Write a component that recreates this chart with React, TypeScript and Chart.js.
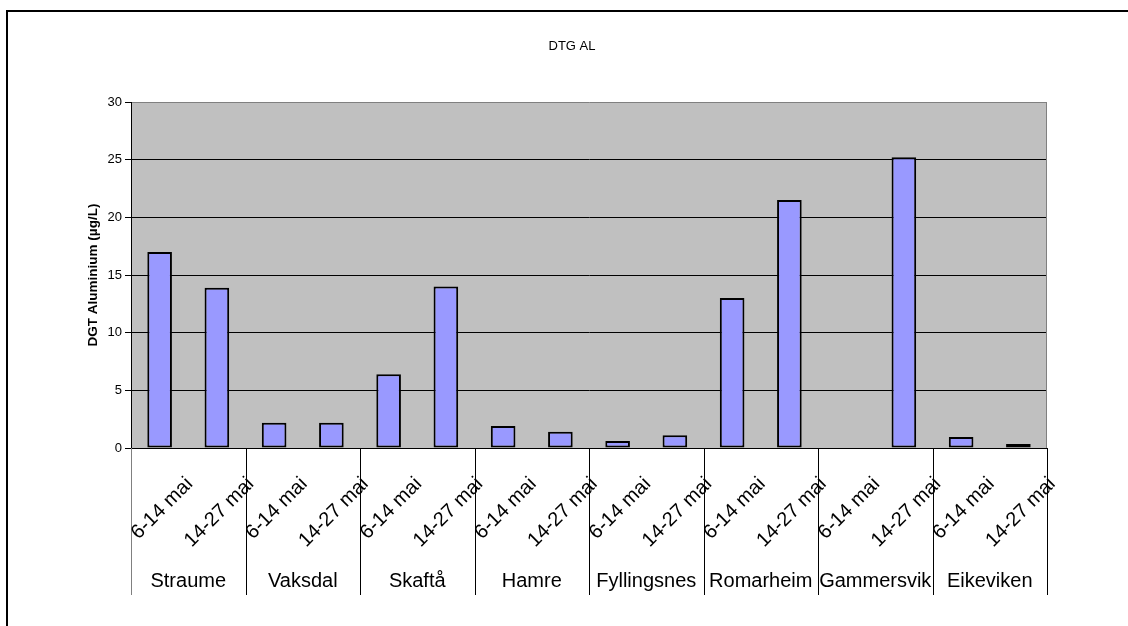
import React, { useEffect, useRef } from "react";
import { Chart, registerables } from "chart.js";
Chart.register(...registerables);

const chartTitle = "DTG AL";
const yTitle = "DGT Aluminium (µg/L)";
const groups = ["Straume", "Vaksdal", "Skaftå", "Hamre", "Fyllingsnes", "Romarheim", "Gammersvik", "Eikeviken"];
const periods = ["6-14 mai", "14-27 mai"];
const values6to14: (number | null)[] = [17.0, 2.2, 6.4, 1.9, 0.6, 13.0, null, 0.95];
const values14to27: (number | null)[] = [13.9, 2.2, 14.0, 1.4, 1.1, 21.5, 25.2, 0.35];
const yMin = 0;
const yMax = 30;
const yStep = 5;

const FONT = "'Liberation Sans', Arial, sans-serif";

const labels: string[] = [];
const data: (number | null)[] = [];
groups.forEach((g, i) => {
  labels.push(g + " " + periods[0]);
  data.push(values6to14[i]);
  labels.push(g + " " + periods[1]);
  data.push(values14to27[i]);
});

const decor = {
  id: "decor",
  beforeDraw(chart: any) {
    const { ctx, chartArea: a, width, height } = chart;
    ctx.save();
    ctx.fillStyle = "#ffffff";
    ctx.fillRect(0, 0, width, height);
    ctx.fillStyle = "#000000";
    ctx.fillRect(6, 10, width - 6, 2);
    ctx.fillRect(6, 10, 2, height - 10);
    ctx.fillStyle = "#C0C0C0";
    ctx.fillRect(a.left, a.top, a.right - a.left, a.bottom - a.top);
    ctx.restore();
  },
  afterDraw(chart: any) {
    const { ctx, chartArea: a } = chart;
    const xs = chart.scales.x;
    ctx.save();
    // right plot border
    ctx.strokeStyle = "#808080";
    ctx.lineWidth = 1;
    ctx.beginPath();
    ctx.moveTo(Math.round(a.right) - 0.5, a.top);
    ctx.lineTo(Math.round(a.right) - 0.5, a.bottom);
    ctx.stroke();
    // group separators
    for (let g = 0; g <= groups.length; g++) {
      const x = Math.round(xs.getPixelForValue(2 * g - 0.5)) + 0.5;
      ctx.strokeStyle = g === 0 ? "#808080" : "#000000";
      ctx.beginPath();
      ctx.moveTo(x, a.bottom);
      ctx.lineTo(x, 595);
      ctx.stroke();
    }
    // rotated period labels
    ctx.fillStyle = "#000000";
    ctx.font = `20px ${FONT}`;
    ctx.textAlign = "center";
    ctx.textBaseline = "middle";
    for (let i = 0; i < labels.length; i++) {
      const txt = periods[i % 2];
      const w = ctx.measureText(txt).width;
      const cx = xs.getPixelForValue(i) + 2.5;
      const cy = 474 + (w + 20) * 0.3535;
      ctx.save();
      ctx.translate(cx, cy);
      ctx.rotate(-Math.PI / 4);
      ctx.fillText(txt, 0, 0);
      ctx.restore();
    }
    // group labels
    for (let g = 0; g < groups.length; g++) {
      const x0 = xs.getPixelForValue(2 * g - 0.5);
      const x1 = xs.getPixelForValue(2 * g + 1.5);
      ctx.fillText(groups[g], (x0 + x1) / 2, 581);
    }
    // title
    ctx.font = `13px ${FONT}`;
    ctx.fillText(chartTitle, 572, 46);
    // y title
    ctx.font = `bold 13.5px ${FONT}`;
    ctx.save();
    ctx.translate(93, (a.top + a.bottom) / 2);
    ctx.rotate(-Math.PI / 2);
    ctx.fillText(yTitle, 0, 0);
    ctx.restore();
    ctx.restore();
  },
};

export default function App() {
  const ref = useRef<HTMLCanvasElement | null>(null);
  useEffect(() => {
    if (!ref.current) return;
    const chart = new Chart(ref.current, {
      type: "bar",
      data: {
        labels,
        datasets: [
          {
            data,
            backgroundColor: "#9999FF",
            borderColor: "#000000",
            borderWidth: 2,
            borderSkipped: false,
            categoryPercentage: 1,
            barPercentage: 0.43,
          },
        ],
      },
      options: {
        responsive: false,
        animation: false,
        devicePixelRatio: 1,
        layout: { padding: { top: 102, left: 0, right: 81, bottom: 0 } },
        plugins: { legend: { display: false }, tooltip: { enabled: false }, title: { display: false } },
        scales: {
          x: {
            ticks: { display: false },
            grid: { display: false },
            border: { display: true, color: "#000000", width: 1 },
            afterFit: (s: any) => {
              s.height = 178;
            },
          },
          y: {
            min: yMin,
            max: yMax,
            ticks: {
              stepSize: yStep,
              color: "#000000",
              font: { family: FONT, size: 13 },
              padding: 3,
            },
            grid: {
              color: (c: any) => (c.tick && c.tick.value === yMax ? "#808080" : "#000000"),
              tickColor: "#000000",
              tickLength: 6,
              lineWidth: 1,
            },
            border: { display: true, color: "#000000", width: 1 },
            afterFit: (s: any) => {
              s.width = 131;
            },
          },
        },
      },
      plugins: [decor],
    });
    return () => chart.destroy();
  }, []);
  return (
    <div style={{ position: "absolute", left: 0, top: 0, width: 1128, height: 626 }}>
      <canvas ref={ref} width={1128} height={626} style={{ display: "block" }} />
    </div>
  );
}
